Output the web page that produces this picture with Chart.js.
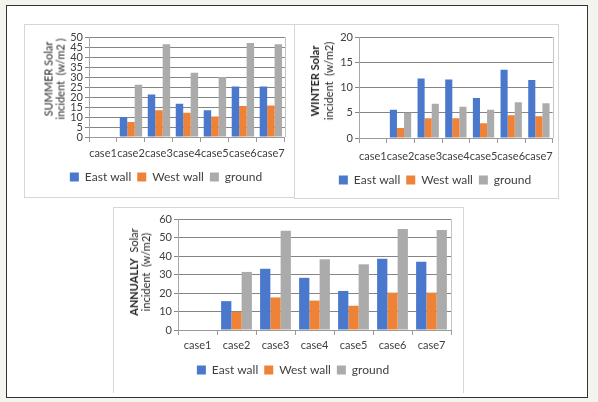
<!DOCTYPE html>
<html>
<head>
<meta charset="utf-8">
<script src="https://cdn.jsdelivr.net/npm/chart.js@4.4.1/dist/chart.umd.min.js"></script>
<style>
  html, body { margin:0; padding:0; }
  body { width:598px; height:402px; background:#f4f4ef; position:relative; overflow:hidden; font-family: Lato, "Open Sans", sans-serif; }
  #outer { position:absolute; left:6px; top:5px; width:580px; height:391px; border:1.5px solid #333; background:#fff; }
  .panel { position:absolute; border:1px solid #d6d6d6; background:#fff; }
  canvas { position:absolute; }
  .yt { position:absolute; transform: translate(-50%,-50%) rotate(-90deg); white-space:pre; text-align:center; color:#262626; font-size:11px; }
</style>
</head>
<body>
<div id="outer"></div>
<div class="panel" style="left:24px; top:24px; width:269px; height:172px; border-right:none;"></div>
<div class="panel" style="left:294px; top:24px; width:263px; height:173px;"></div>
<div class="panel" style="left:113px; top:207px; width:349px; height:185px; border-bottom:none;"></div>

<canvas id="c1" width="244" height="169" style="left:46px; top:24px;"></canvas>
<canvas id="c2" width="246" height="172" style="left:314px; top:24px;"></canvas>
<canvas id="c3" width="320" height="179" style="left:135px; top:207px;"></canvas>

<div class="yt" style="left:54px; top:79px; line-height:11.5px;">SUMMER Solar
incident  (w/m2 )</div>
<div class="yt" style="left:322px; top:81px; line-height:14px;"><b>WINTER Solar</b>
incident  (w/m2)</div>
<div class="yt" style="left:140px; top:272px; line-height:12px;"><b>ANNUALLY</b>  Solar
incident  (w/m2)</div>

<script>
const categories = ['case1','case2','case3','case4','case5','case6','case7'];
const seriesNames = ['East wall','West wall','ground'];

const summerEast   = [0, 10, 21.2, 16.6, 13.4, 25.2, 25.2];
const summerWest   = [0, 7.5, 13.4, 12.1, 10.2, 15.5, 15.7];
const summerGround = [0, 26.1, 46.4, 32.1, 30, 47, 46.4];

const winterEast   = [0, 5.6, 11.8, 11.6, 7.9, 13.5, 11.5];
const winterWest   = [0, 2.0, 3.9, 3.9, 2.9, 4.5, 4.3];
const winterGround = [0, 5.0, 6.8, 6.2, 5.6, 7.1, 6.9];

const annualEast   = [0, 15.6, 33.1, 28.2, 21.1, 38.5, 36.9];
const annualWest   = [0, 9.8, 17.6, 15.9, 13.1, 20.2, 20.2];
const annualGround = [0, 31.4, 53.6, 38.2, 35.5, 54.6, 54.0];

const yTicksSummer = {min:0, max:50, step:5};
const yTicksWinter = {min:0, max:20, step:5};
const yTicksAnnual = {min:0, max:60, step:10};

const colors = ['#4a78cc', '#ee8236', '#ababab'];
const FONT = 'Lato, "Open Sans", sans-serif';
const TXT = '#404040';

const frame = {
  id: 'frame',
  afterDraw(chart) {
    const {ctx, chartArea: a} = chart;
    ctx.save();
    ctx.strokeStyle = '#c4c4c4';
    ctx.lineWidth = 1;
    ctx.beginPath();
    ctx.moveTo(Math.round(a.right) + 0.5, a.top);
    ctx.lineTo(Math.round(a.right) + 0.5, a.bottom);
    ctx.stroke();
    ctx.restore();
  }
};

function makeChart(id, data, yt, opts) {
  new Chart(document.getElementById(id), {
    type: 'bar',
    data: {
      labels: categories,
      datasets: data.map((d, i) => ({
        label: seriesNames[i],
        data: d,
        backgroundColor: colors[i],
        borderWidth: 0,
        categoryPercentage: opts.catPct,
        barPercentage: 1.0
      }))
    },
    options: {
      responsive: false,
      animation: false,
      devicePixelRatio: 1,
      layout: { padding: { top: opts.padTop, right: 4, left: 0, bottom: 0 } },
      plugins: {
        tooltip: { enabled: false },
        legend: {
          position: 'bottom',
          labels: { boxWidth: 9, boxHeight: 9, padding: 6, color: TXT, font: { family: FONT, size: 12 } }
        }
      },
      scales: {
        x: {
          grid: { offset: true, drawOnChartArea: false, drawTicks: true, tickLength: 5, color: '#9a9a9a' },
          border: { color: '#9a9a9a' },
          ticks: { color: TXT, font: { family: FONT, size: 11 }, padding: opts.tickPad, maxRotation: 0, minRotation: 0, autoSkip: false },
          afterFit(s) { s.height = opts.xH; }
        },
        y: {
          min: yt.min, max: yt.max,
          grid: { color: '#858585', tickLength: 4, drawTicks: true },
          border: { color: '#a8a8a8' },
          ticks: { stepSize: yt.step, autoSkip: false, color: TXT, font: { family: FONT, size: 11 }, padding: 2 },
          afterFit(s) { s.width = opts.yW; }
        }
      }
    },
    plugins: [frame]
  });
}

makeChart('c1', [summerEast, summerWest, summerGround], yTicksSummer, {catPct:0.8, padTop:13, xH:28, tickPad:5, yW:43});
makeChart('c2', [winterEast, winterWest, winterGround], yTicksWinter, {catPct:0.77, padTop:13, xH:30, tickPad:7, yW:45});
makeChart('c3', [annualEast, annualWest, annualGround], yTicksAnnual, {catPct:0.79, padTop:12, xH:28, tickPad:4, yW:43});
</script>
</body>
</html>
